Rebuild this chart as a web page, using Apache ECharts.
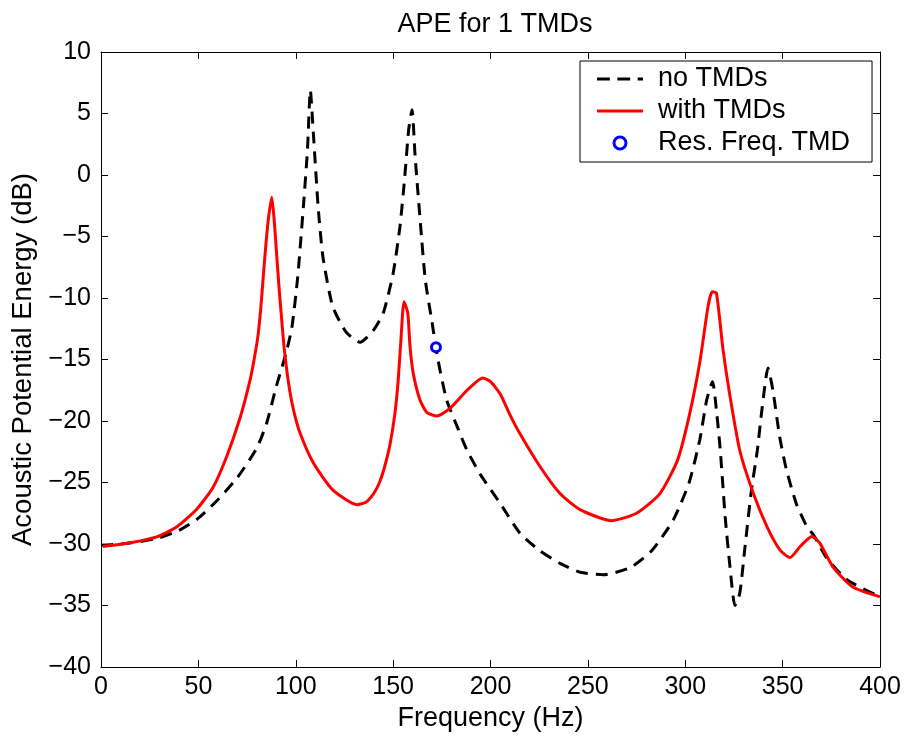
<!DOCTYPE html>
<html>
<head>
<meta charset="utf-8">
<title>APE for 1 TMDs</title>
<script src="https://cdn.jsdelivr.net/npm/echarts@6/dist/echarts.min.js"></script>
<style>
  html, body { margin: 0; padding: 0; background: #fff; }
  #chart { width: 909px; height: 736px; }
</style>
</head>
<body>
<div id="chart"></div>
<script>
// 无TMD 曲线 (频率 Hz / dB)
var freqNo = [0, 10, 20, 30, 40, 50, 60, 70, 80, 85, 90, 95, 98, 101, 104, 106, 107.5, 109, 111.5, 114, 119, 126, 133, 140, 145, 150, 153.5, 156, 158, 159.7, 161.3, 164, 166.5, 170, 173, 177.5, 183, 188, 195, 205, 215, 225, 236, 246, 258, 272, 283, 294, 302, 307.5, 311, 314, 316, 318, 320.5, 323, 325.5, 328, 330.5, 334, 337, 339.5, 342.5, 345, 348.5, 352, 357, 362.5, 366, 372.5, 383, 400];
var apeNo = [-30.1, -30.0, -29.8, -29.5, -28.9, -27.9, -26.4, -24.6, -22.2, -20.2, -17.2, -14.5, -12.4, -8.3, -2.4, 2.0, 6.9, 3.5, -2.6, -6.7, -10.7, -12.8, -13.6, -12.6, -11.2, -8.0, -4.2, -0.1, 3.7, 5.3, 1.5, -3.9, -8.5, -12.0, -15.0, -18.3, -20.5, -22.4, -24.4, -26.7, -29.1, -30.5, -31.6, -32.3, -32.5, -31.9, -30.5, -28.0, -25.0, -21.5, -18.3, -16.8, -19.1, -22.4, -27.8, -31.9, -35.0, -34.0, -30.5, -25.6, -22.4, -18.9, -15.7, -17.5, -21.3, -24.0, -26.7, -28.6, -29.3, -31.1, -32.9, -34.3];

// 有TMD 曲线
var freqWith = [1, 15, 29, 39, 49, 57.5, 64.5, 71.5, 76.5, 78.5, 80.5, 82, 83.3, 84.7, 86, 87.7, 89, 90.3, 91.6, 92.9, 94, 95.5, 97, 99, 102, 109, 119, 131.5, 136, 140, 143, 145.5, 148.4, 151, 152.6, 154, 155.6, 157.5, 158.7, 160.3, 163.8, 167.3, 172.5, 179, 188, 196, 200, 205, 210, 215, 225.4, 235.7, 246, 262, 275, 287, 296, 302, 307.5, 311.7, 313.8, 316, 319.4, 323, 328, 335, 342, 348.7, 353.8, 359, 365, 369, 376, 386, 400];
var apeWith = [-30.2, -29.9, -29.4, -28.6, -27.2, -25.4, -22.9, -19.7, -16.7, -15.1, -13.2, -10.9, -8.3, -5.6, -3.5, -1.8, -3.8, -6.7, -9.5, -12.0, -14.0, -16.0, -17.6, -19.2, -20.9, -23.4, -25.6, -26.8, -26.6, -25.9, -25.0, -23.8, -21.9, -19.3, -16.7, -13.4, -10.3, -11.2, -14.0, -16.1, -18.3, -19.3, -19.6, -19.0, -17.5, -16.5, -16.8, -17.8, -19.5, -21.0, -23.7, -25.9, -27.2, -28.1, -27.5, -25.9, -23.2, -19.6, -15.2, -10.7, -9.5, -9.6, -14.2, -18.0, -22.4, -25.9, -28.6, -30.5, -31.1, -30.2, -29.4, -29.9, -31.9, -33.5, -34.3];

// TMD 共振频率点
var tmdFreq = [172];
var tmdApe = [-14.0];

var xTicks = [0, 400, 50];
var yTicks = [-40, 10, 5];

function pairs(xs, ys) {
  var out = [];
  for (var i = 0; i < xs.length; i++) out.push([xs[i], ys[i]]);
  return out;
}

var font = "'Liberation Sans', Arial, Helvetica, sans-serif";
var chart = echarts.init(document.getElementById("chart"));

function axisBase(pos, range, showLabel) {
  return {
    type: "value",
    position: pos,
    min: range[0],
    max: range[1],
    interval: range[2],
    splitLine: { show: false },
    axisLine: { show: true, onZero: false, lineStyle: { color: "#000", width: 1 } },
    axisTick: { show: true, inside: true, length: 7, lineStyle: { color: "#000" } },
    axisLabel: { show: showLabel, color: "#000", fontSize: 25, fontFamily: font,
      formatter: function (v) { return v < 0 ? "\u2212" + Math.abs(v) : String(v); } }
  };
}

var xMain = axisBase("bottom", xTicks, true);
xMain.name = "Frequency (Hz)";
xMain.nameLocation = "middle";
xMain.nameGap = 38;
xMain.nameTextStyle = { color: "#000", fontSize: 27, fontFamily: font };
xMain.axisLabel.margin = 8;

var yMain = axisBase("left", yTicks, true);
yMain.name = "Acoustic Potential Energy (dB)";
yMain.nameLocation = "middle";
yMain.nameGap = 60;
yMain.nameTextStyle = { color: "#000", fontSize: 27.5, fontFamily: font };
yMain.axisLabel.margin = 10;

// 图例线样
var dashIcon = "path://M0,0h12v3h-12z M19,0h12v3h-12z M38,0h5v3h-5z";
var solidIcon = "path://M0,0h46v3h-46z";

chart.setOption({
  animation: false,
  backgroundColor: "#fff",
  title: {
    text: "APE for 1 TMDs",
    left: 490,
    top: 6,
    textAlign: "center",
    textStyle: { color: "#000", fontSize: 27, fontWeight: "normal", fontFamily: font }
  },
  grid: { left: 101, right: 29, top: 52, bottom: 69, containLabel: false, outerBoundsMode: "none" },
  xAxis: [xMain, axisBase("top", xTicks, false)],
  yAxis: [yMain, axisBase("right", yTicks, false)],
  legend: {
    orient: "vertical",
    left: 580,
    top: 61,
    padding: [4, 22, 5, 17],
    itemWidth: 46,
    itemHeight: 12,
    itemGap: 4,
    borderColor: "#000",
    borderWidth: 1,
    borderRadius: 0,
    backgroundColor: "#fff",
    textStyle: { color: "#000", fontSize: 27, fontFamily: font, lineHeight: 28, padding: [0, 0, 0, 10] },
    data: [
      { name: "no TMDs", icon: dashIcon, itemStyle: { color: "#000" } },
      { name: "with TMDs", icon: solidIcon, itemStyle: { color: "#ff0000" } },
      { name: "Res. Freq. TMD", icon: "circle",
        itemStyle: { color: "#fff", borderColor: "#0000ff", borderWidth: 3 } }
    ]
  },
  series: [
    {
      name: "no TMDs",
      type: "line",
      data: pairs(freqNo, apeNo),
      symbol: "none",
      smooth: 0.2,
      lineStyle: { color: "#000", width: 3, type: [12, 8] },
      itemStyle: { color: "#000" },
      z: 2
    },
    {
      name: "with TMDs",
      type: "line",
      data: pairs(freqWith, apeWith),
      symbol: "none",
      smooth: 0.2,
      lineStyle: { color: "#ff0000", width: 3 },
      itemStyle: { color: "#ff0000" },
      z: 3
    },
    {
      name: "Res. Freq. TMD",
      type: "scatter",
      data: pairs(tmdFreq, tmdApe),
      symbol: "circle",
      symbolSize: 9,
      itemStyle: { color: "#fff", borderColor: "#0000ff", borderWidth: 3, opacity: 1 },
      z: 4
    }
  ]
});
</script>
</body>
</html>
